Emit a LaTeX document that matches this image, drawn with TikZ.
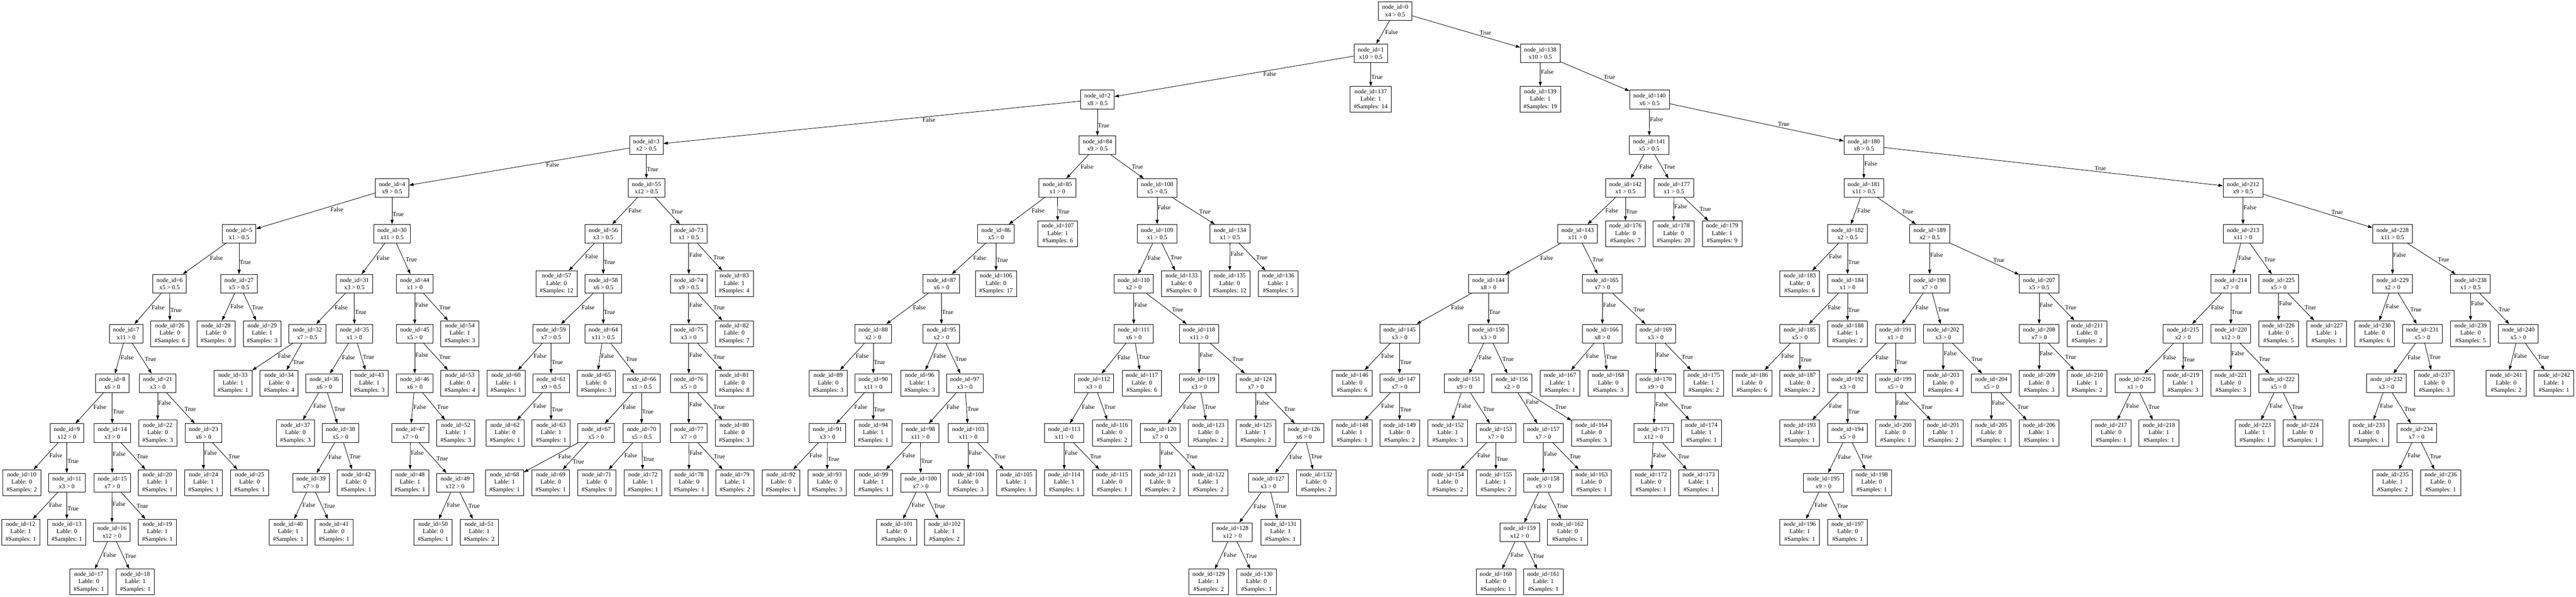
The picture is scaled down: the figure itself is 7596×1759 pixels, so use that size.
\documentclass[tikz,border=0pt]{standalone}
\usepackage{fontspec}
\setmainfont{Liberation Serif}
\usetikzlibrary{arrows.meta}
\tikzstyle{arrow} = [line width=1.3pt, ->, >={Triangle[length=13pt, width=9pt]}]

\begin{document}
\begin{tikzpicture}[x=1pt, y=1pt,
		font=\fontsize{18}{22}\selectfont,
		decision/.style={
			draw=black,
			line width=1.3pt,
			rectangle,
			align=center,
			inner xsep=11pt,
			inner ysep=2pt,
			minimum height=55pt},
		leafbox/.style={
			draw=black,
			line width=1.3pt,
			rectangle,
			align=center,
			inner xsep=11pt,
			inner ysep=2pt,
			minimum height=76pt},
		flabel/.style={auto, pos=0.38, inner sep=1pt},
		tlabel/.style={auto, pos=0.62, inner sep=1pt}]
		\useasboundingbox (0,0) rectangle (7596,-1759);

		% rank 0
		\node (n0) [decision] at (4114,-32) {node\_id=0\\x4 > 0.5};
		% rank 1
		\node (n1) [decision] at (4042,-157) {node\_id=1\\x10 > 0.5};
		\node (n138) [decision] at (4542,-157) {node\_id=138\\x10 > 0.5};
		% rank 2
		\node (n2) [decision] at (3236,-293) {node\_id=2\\x8 > 0.5};
		\node (n137) [leafbox] at (4042,-293) {node\_id=137\\Lable: 1\\\#Samples: 14};
		\node (n139) [leafbox] at (4542,-293) {node\_id=139\\Lable: 1\\\#Samples: 19};
		\node (n140) [decision] at (4864,-293) {node\_id=140\\x6 > 0.5};
		% rank 3
		\node (n3) [decision] at (1906,-428) {node\_id=3\\x2 > 0.5};
		\node (n84) [decision] at (3236,-428) {node\_id=84\\x9 > 0.5};
		\node (n141) [decision] at (4863,-428) {node\_id=141\\x5 > 0.5};
		\node (n180) [decision] at (5496,-428) {node\_id=180\\x8 > 0.5};
		% rank 4
		\node (n4) [decision] at (1156,-554) {node\_id=4\\x9 > 0.5};
		\node (n55) [decision] at (1906,-554) {node\_id=55\\x12 > 0.5};
		\node (n85) [decision] at (3118,-554) {node\_id=85\\x1 > 0};
		\node (n108) [decision] at (3412,-554) {node\_id=108\\x5 > 0.5};
		\node (n142) [decision] at (4793,-554) {node\_id=142\\x1 > 0.5};
		\node (n177) [decision] at (4936,-554) {node\_id=177\\x1 > 0.5};
		\node (n181) [decision] at (5496,-554) {node\_id=181\\x11 > 0.5};
		\node (n212) [decision] at (6614,-554) {node\_id=212\\x9 > 0.5};
		% rank 5
		\node (n5) [decision] at (705,-689) {node\_id=5\\x1 > 0.5};
		\node (n30) [decision] at (1156,-689) {node\_id=30\\x11 > 0.5};
		\node (n56) [decision] at (1779,-689) {node\_id=56\\x3 > 0.5};
		\node (n73) [decision] at (2031,-689) {node\_id=73\\x1 > 0.5};
		\node (n86) [decision] at (2937,-689) {node\_id=86\\x5 > 0};
		\node (n107) [leafbox] at (3119,-689) {node\_id=107\\Lable: 1\\\#Samples: 6};
		\node (n109) [decision] at (3412,-689) {node\_id=109\\x1 > 0.5};
		\node (n134) [decision] at (3627,-689) {node\_id=134\\x1 > 0.5};
		\node (n143) [decision] at (4652,-689) {node\_id=143\\x11 > 0};
		\node (n176) [leafbox] at (4793,-689) {node\_id=176\\Lable: 0\\\#Samples: 7};
		\node (n178) [leafbox] at (4935,-689) {node\_id=178\\Lable: 0\\\#Samples: 20};
		\node (n179) [leafbox] at (5078,-689) {node\_id=179\\Lable: 1\\\#Samples: 9};
		\node (n182) [decision] at (5448,-689) {node\_id=182\\x2 > 0.5};
		\node (n189) [decision] at (5690,-689) {node\_id=189\\x2 > 0.5};
		\node (n213) [decision] at (6614,-689) {node\_id=213\\x11 > 0};
		\node (n228) [decision] at (7055,-689) {node\_id=228\\x11 > 0.5};
		% rank 6
		\node (n6) [decision] at (500,-836) {node\_id=6\\x5 > 0.5};
		\node (n27) [decision] at (705,-836) {node\_id=27\\x5 > 0.5};
		\node (n31) [decision] at (1045,-836) {node\_id=31\\x3 > 0.5};
		\node (n44) [decision] at (1223,-836) {node\_id=44\\x1 > 0};
		\node (n57) [leafbox] at (1641,-836) {node\_id=57\\Lable: 0\\\#Samples: 12};
		\node (n58) [decision] at (1779,-836) {node\_id=58\\x6 > 0.5};
		\node (n74) [decision] at (2031,-836) {node\_id=74\\x9 > 0.5};
		\node (n83) [leafbox] at (2165,-836) {node\_id=83\\Lable: 1\\\#Samples: 4};
		\node (n87) [decision] at (2776,-836) {node\_id=87\\x6 > 0};
		\node (n106) [leafbox] at (2937,-836) {node\_id=106\\Lable: 0\\\#Samples: 17};
		\node (n110) [decision] at (3343,-836) {node\_id=110\\x2 > 0};
		\node (n133) [leafbox] at (3484,-836) {node\_id=133\\Lable: 0\\\#Samples: 0};
		\node (n135) [leafbox] at (3626,-836) {node\_id=135\\Lable: 0\\\#Samples: 12};
		\node (n136) [leafbox] at (3769,-836) {node\_id=136\\Lable: 1\\\#Samples: 5};
		\node (n144) [decision] at (4389,-836) {node\_id=144\\x8 > 0};
		\node (n165) [decision] at (4725,-836) {node\_id=165\\x7 > 0};
		\node (n183) [leafbox] at (5307,-836) {node\_id=183\\Lable: 0\\\#Samples: 6};
		\node (n184) [decision] at (5448,-836) {node\_id=184\\x1 > 0};
		\node (n190) [decision] at (5690,-836) {node\_id=190\\x7 > 0};
		\node (n207) [decision] at (6013,-836) {node\_id=207\\x5 > 0.5};
		\node (n214) [decision] at (6578,-836) {node\_id=214\\x7 > 0};
		\node (n225) [decision] at (6719,-836) {node\_id=225\\x5 > 0};
		\node (n229) [decision] at (7055,-836) {node\_id=229\\x2 > 0};
		\node (n238) [decision] at (7285,-836) {node\_id=238\\x1 > 0.5};
		% rank 7
		\node (n7) [decision] at (372,-983) {node\_id=7\\x11 > 0};
		\node (n26) [leafbox] at (501,-983) {node\_id=26\\Lable: 0\\\#Samples: 6};
		\node (n28) [leafbox] at (637,-983) {node\_id=28\\Lable: 0\\\#Samples: 0};
		\node (n29) [leafbox] at (773,-983) {node\_id=29\\Lable: 1\\\#Samples: 3};
		\node (n32) [decision] at (906,-983) {node\_id=32\\x7 > 0.5};
		\node (n35) [decision] at (1045,-983) {node\_id=35\\x1 > 0};
		\node (n45) [decision] at (1223,-983) {node\_id=45\\x5 > 0};
		\node (n54) [leafbox] at (1356,-983) {node\_id=54\\Lable: 1\\\#Samples: 3};
		\node (n59) [decision] at (1625,-983) {node\_id=59\\x7 > 0.5};
		\node (n64) [decision] at (1779,-983) {node\_id=64\\x11 > 0.5};
		\node (n75) [decision] at (2031,-983) {node\_id=75\\x3 > 0};
		\node (n82) [leafbox] at (2165,-983) {node\_id=82\\Lable: 0\\\#Samples: 7};
		\node (n88) [decision] at (2575,-983) {node\_id=88\\x2 > 0};
		\node (n95) [decision] at (2776,-983) {node\_id=95\\x2 > 0};
		\node (n111) [decision] at (3343,-983) {node\_id=111\\x6 > 0};
		\node (n118) [decision] at (3536,-983) {node\_id=118\\x11 > 0};
		\node (n145) [decision] at (4127,-983) {node\_id=145\\x3 > 0};
		\node (n150) [decision] at (4389,-983) {node\_id=150\\x3 > 0};
		\node (n166) [decision] at (4725,-983) {node\_id=166\\x8 > 0};
		\node (n169) [decision] at (4882,-983) {node\_id=169\\x3 > 0};
		\node (n185) [decision] at (5307,-983) {node\_id=185\\x5 > 0};
		\node (n188) [leafbox] at (5448,-983) {node\_id=188\\Lable: 1\\\#Samples: 2};
		\node (n191) [decision] at (5589,-983) {node\_id=191\\x1 > 0};
		\node (n202) [decision] at (5730,-983) {node\_id=202\\x3 > 0};
		\node (n208) [decision] at (6013,-983) {node\_id=208\\x7 > 0};
		\node (n211) [leafbox] at (6154,-983) {node\_id=211\\Lable: 0\\\#Samples: 2};
		\node (n215) [decision] at (6437,-983) {node\_id=215\\x2 > 0};
		\node (n220) [decision] at (6578,-983) {node\_id=220\\x12 > 0};
		\node (n226) [leafbox] at (6719,-983) {node\_id=226\\Lable: 0\\\#Samples: 5};
		\node (n227) [leafbox] at (6861,-983) {node\_id=227\\Lable: 1\\\#Samples: 1};
		\node (n230) [leafbox] at (7002,-983) {node\_id=230\\Lable: 0\\\#Samples: 6};
		\node (n231) [decision] at (7143,-983) {node\_id=231\\x5 > 0};
		\node (n239) [leafbox] at (7285,-983) {node\_id=239\\Lable: 0\\\#Samples: 5};
		\node (n240) [decision] at (7426,-983) {node\_id=240\\x5 > 0};
		% rank 8
		\node (n8) [decision] at (331,-1129) {node\_id=8\\x6 > 0};
		\node (n21) [decision] at (465,-1129) {node\_id=21\\x3 > 0};
		\node (n33) [leafbox] at (687,-1129) {node\_id=33\\Lable: 1\\\#Samples: 1};
		\node (n34) [leafbox] at (823,-1129) {node\_id=34\\Lable: 0\\\#Samples: 4};
		\node (n36) [decision] at (956,-1129) {node\_id=36\\x6 > 0};
		\node (n43) [leafbox] at (1089,-1129) {node\_id=43\\Lable: 1\\\#Samples: 3};
		\node (n46) [decision] at (1223,-1129) {node\_id=46\\x6 > 0};
		\node (n53) [leafbox] at (1356,-1129) {node\_id=53\\Lable: 0\\\#Samples: 4};
		\node (n60) [leafbox] at (1492,-1129) {node\_id=60\\Lable: 1\\\#Samples: 1};
		\node (n61) [decision] at (1625,-1129) {node\_id=61\\x9 > 0.5};
		\node (n65) [leafbox] at (1758,-1129) {node\_id=65\\Lable: 0\\\#Samples: 3};
		\node (n66) [decision] at (1892,-1129) {node\_id=66\\x1 > 0.5};
		\node (n76) [decision] at (2031,-1129) {node\_id=76\\x5 > 0};
		\node (n81) [leafbox] at (2165,-1129) {node\_id=81\\Lable: 0\\\#Samples: 8};
		\node (n89) [leafbox] at (2442,-1129) {node\_id=89\\Lable: 0\\\#Samples: 3};
		\node (n90) [decision] at (2575,-1129) {node\_id=90\\x11 > 0};
		\node (n96) [leafbox] at (2712,-1129) {node\_id=96\\Lable: 1\\\#Samples: 3};
		\node (n97) [decision] at (2845,-1129) {node\_id=97\\x3 > 0};
		\node (n112) [decision] at (3226,-1129) {node\_id=112\\x3 > 0};
		\node (n117) [leafbox] at (3367,-1129) {node\_id=117\\Lable: 0\\\#Samples: 6};
		\node (n119) [decision] at (3536,-1129) {node\_id=119\\x3 > 0};
		\node (n124) [decision] at (3703,-1129) {node\_id=124\\x7 > 0};
		\node (n146) [leafbox] at (3987,-1129) {node\_id=146\\Lable: 0\\\#Samples: 6};
		\node (n147) [decision] at (4127,-1129) {node\_id=147\\x7 > 0};
		\node (n151) [decision] at (4318,-1129) {node\_id=151\\x9 > 0};
		\node (n156) [decision] at (4458,-1129) {node\_id=156\\x2 > 0};
		\node (n167) [leafbox] at (4600,-1129) {node\_id=167\\Lable: 1\\\#Samples: 1};
		\node (n168) [leafbox] at (4742,-1129) {node\_id=168\\Lable: 0\\\#Samples: 3};
		\node (n170) [decision] at (4882,-1129) {node\_id=170\\x9 > 0};
		\node (n175) [leafbox] at (5024,-1129) {node\_id=175\\Lable: 1\\\#Samples: 2};
		\node (n186) [leafbox] at (5166,-1129) {node\_id=186\\Lable: 0\\\#Samples: 6};
		\node (n187) [leafbox] at (5307,-1129) {node\_id=187\\Lable: 0\\\#Samples: 2};
		\node (n192) [decision] at (5448,-1129) {node\_id=192\\x3 > 0};
		\node (n199) [decision] at (5589,-1129) {node\_id=199\\x5 > 0};
		\node (n203) [leafbox] at (5730,-1129) {node\_id=203\\Lable: 0\\\#Samples: 4};
		\node (n204) [decision] at (5872,-1129) {node\_id=204\\x5 > 0};
		\node (n209) [leafbox] at (6013,-1129) {node\_id=209\\Lable: 0\\\#Samples: 3};
		\node (n210) [leafbox] at (6154,-1129) {node\_id=210\\Lable: 1\\\#Samples: 2};
		\node (n216) [decision] at (6296,-1129) {node\_id=216\\x1 > 0};
		\node (n219) [leafbox] at (6437,-1129) {node\_id=219\\Lable: 1\\\#Samples: 3};
		\node (n221) [leafbox] at (6578,-1129) {node\_id=221\\Lable: 0\\\#Samples: 3};
		\node (n222) [decision] at (6719,-1129) {node\_id=222\\x5 > 0};
		\node (n232) [decision] at (7037,-1129) {node\_id=232\\x3 > 0};
		\node (n237) [leafbox] at (7178,-1129) {node\_id=237\\Lable: 0\\\#Samples: 3};
		\node (n241) [leafbox] at (7390,-1129) {node\_id=241\\Lable: 0\\\#Samples: 2};
		\node (n242) [leafbox] at (7531,-1129) {node\_id=242\\Lable: 1\\\#Samples: 1};
		% rank 9
		\node (n9) [decision] at (197,-1276) {node\_id=9\\x12 > 0};
		\node (n14) [decision] at (331,-1276) {node\_id=14\\x3 > 0};
		\node (n22) [leafbox] at (465,-1276) {node\_id=22\\Lable: 0\\\#Samples: 3};
		\node (n23) [decision] at (600,-1276) {node\_id=23\\x6 > 0};
		\node (n37) [leafbox] at (871,-1276) {node\_id=37\\Lable: 0\\\#Samples: 3};
		\node (n38) [decision] at (1004,-1276) {node\_id=38\\x5 > 0};
		\node (n47) [decision] at (1210,-1276) {node\_id=47\\x7 > 0};
		\node (n52) [leafbox] at (1344,-1276) {node\_id=52\\Lable: 1\\\#Samples: 3};
		\node (n62) [leafbox] at (1489,-1276) {node\_id=62\\Lable: 0\\\#Samples: 1};
		\node (n63) [leafbox] at (1625,-1276) {node\_id=63\\Lable: 1\\\#Samples: 1};
		\node (n67) [decision] at (1758,-1276) {node\_id=67\\x5 > 0};
		\node (n70) [decision] at (1892,-1276) {node\_id=70\\x5 > 0.5};
		\node (n77) [decision] at (2031,-1276) {node\_id=77\\x7 > 0};
		\node (n80) [leafbox] at (2165,-1276) {node\_id=80\\Lable: 0\\\#Samples: 3};
		\node (n91) [decision] at (2440,-1276) {node\_id=91\\x3 > 0};
		\node (n94) [leafbox] at (2575,-1276) {node\_id=94\\Lable: 1\\\#Samples: 1};
		\node (n98) [decision] at (2714,-1276) {node\_id=98\\x11 > 0};
		\node (n103) [decision] at (2855,-1276) {node\_id=103\\x11 > 0};
		\node (n113) [decision] at (3138,-1276) {node\_id=113\\x11 > 0};
		\node (n116) [leafbox] at (3279,-1276) {node\_id=116\\Lable: 0\\\#Samples: 2};
		\node (n120) [decision] at (3421,-1276) {node\_id=120\\x7 > 0};
		\node (n123) [leafbox] at (3563,-1276) {node\_id=123\\Lable: 0\\\#Samples: 2};
		\node (n125) [leafbox] at (3703,-1276) {node\_id=125\\Lable: 1\\\#Samples: 2};
		\node (n126) [decision] at (3845,-1276) {node\_id=126\\x6 > 0};
		\node (n148) [leafbox] at (3987,-1276) {node\_id=148\\Lable: 1\\\#Samples: 1};
		\node (n149) [leafbox] at (4127,-1276) {node\_id=149\\Lable: 0\\\#Samples: 2};
		\node (n152) [leafbox] at (4269,-1276) {node\_id=152\\Lable: 1\\\#Samples: 3};
		\node (n153) [decision] at (4411,-1276) {node\_id=153\\x7 > 0};
		\node (n157) [decision] at (4551,-1276) {node\_id=157\\x7 > 0};
		\node (n164) [leafbox] at (4693,-1276) {node\_id=164\\Lable: 0\\\#Samples: 3};
		\node (n171) [decision] at (4876,-1276) {node\_id=171\\x12 > 0};
		\node (n174) [leafbox] at (5017,-1276) {node\_id=174\\Lable: 1\\\#Samples: 1};
		\node (n193) [leafbox] at (5307,-1276) {node\_id=193\\Lable: 1\\\#Samples: 1};
		\node (n194) [decision] at (5448,-1276) {node\_id=194\\x5 > 0};
		\node (n200) [leafbox] at (5589,-1276) {node\_id=200\\Lable: 0\\\#Samples: 1};
		\node (n201) [leafbox] at (5730,-1276) {node\_id=201\\Lable: 1\\\#Samples: 2};
		\node (n205) [leafbox] at (5872,-1276) {node\_id=205\\Lable: 0\\\#Samples: 1};
		\node (n206) [leafbox] at (6013,-1276) {node\_id=206\\Lable: 1\\\#Samples: 1};
		\node (n217) [leafbox] at (6225,-1276) {node\_id=217\\Lable: 0\\\#Samples: 1};
		\node (n218) [leafbox] at (6366,-1276) {node\_id=218\\Lable: 1\\\#Samples: 1};
		\node (n223) [leafbox] at (6649,-1276) {node\_id=223\\Lable: 1\\\#Samples: 1};
		\node (n224) [leafbox] at (6790,-1276) {node\_id=224\\Lable: 0\\\#Samples: 1};
		\node (n233) [leafbox] at (6985,-1276) {node\_id=233\\Lable: 0\\\#Samples: 1};
		\node (n234) [decision] at (7126,-1276) {node\_id=234\\x7 > 0};
		% rank 10
		\node (n10) [leafbox] at (64,-1422) {node\_id=10\\Lable: 0\\\#Samples: 2};
		\node (n11) [decision] at (197,-1422) {node\_id=11\\x3 > 0};
		\node (n15) [decision] at (331,-1422) {node\_id=15\\x7 > 0};
		\node (n20) [leafbox] at (464,-1422) {node\_id=20\\Lable: 1\\\#Samples: 1};
		\node (n24) [leafbox] at (600,-1422) {node\_id=24\\Lable: 1\\\#Samples: 1};
		\node (n25) [leafbox] at (736,-1422) {node\_id=25\\Lable: 0\\\#Samples: 1};
		\node (n39) [decision] at (917,-1422) {node\_id=39\\x7 > 0};
		\node (n42) [leafbox] at (1050,-1422) {node\_id=42\\Lable: 0\\\#Samples: 1};
		\node (n48) [leafbox] at (1209,-1422) {node\_id=48\\Lable: 1\\\#Samples: 1};
		\node (n49) [decision] at (1342,-1422) {node\_id=49\\x12 > 0};
		\node (n68) [leafbox] at (1488,-1422) {node\_id=68\\Lable: 1\\\#Samples: 1};
		\node (n69) [leafbox] at (1624,-1422) {node\_id=69\\Lable: 0\\\#Samples: 1};
		\node (n71) [leafbox] at (1760,-1422) {node\_id=71\\Lable: 0\\\#Samples: 0};
		\node (n72) [leafbox] at (1896,-1422) {node\_id=72\\Lable: 1\\\#Samples: 1};
		\node (n78) [leafbox] at (2032,-1422) {node\_id=78\\Lable: 0\\\#Samples: 1};
		\node (n79) [leafbox] at (2167,-1422) {node\_id=79\\Lable: 1\\\#Samples: 2};
		\node (n92) [leafbox] at (2303,-1422) {node\_id=92\\Lable: 0\\\#Samples: 1};
		\node (n93) [leafbox] at (2439,-1422) {node\_id=93\\Lable: 0\\\#Samples: 3};
		\node (n99) [leafbox] at (2576,-1422) {node\_id=99\\Lable: 1\\\#Samples: 1};
		\node (n100) [decision] at (2715,-1422) {node\_id=100\\x7 > 0};
		\node (n104) [leafbox] at (2855,-1422) {node\_id=104\\Lable: 0\\\#Samples: 3};
		\node (n105) [leafbox] at (2997,-1422) {node\_id=105\\Lable: 1\\\#Samples: 1};
		\node (n114) [leafbox] at (3138,-1422) {node\_id=114\\Lable: 1\\\#Samples: 1};
		\node (n115) [leafbox] at (3279,-1422) {node\_id=115\\Lable: 0\\\#Samples: 1};
		\node (n121) [leafbox] at (3421,-1422) {node\_id=121\\Lable: 0\\\#Samples: 2};
		\node (n122) [leafbox] at (3563,-1422) {node\_id=122\\Lable: 1\\\#Samples: 2};
		\node (n127) [decision] at (3740,-1422) {node\_id=127\\x3 > 0};
		\node (n132) [leafbox] at (3881,-1422) {node\_id=132\\Lable: 0\\\#Samples: 2};
		\node (n154) [leafbox] at (4269,-1422) {node\_id=154\\Lable: 0\\\#Samples: 2};
		\node (n155) [leafbox] at (4411,-1422) {node\_id=155\\Lable: 1\\\#Samples: 2};
		\node (n158) [decision] at (4551,-1422) {node\_id=158\\x9 > 0};
		\node (n163) [leafbox] at (4693,-1422) {node\_id=163\\Lable: 0\\\#Samples: 1};
		\node (n172) [leafbox] at (4868,-1422) {node\_id=172\\Lable: 0\\\#Samples: 1};
		\node (n173) [leafbox] at (5009,-1422) {node\_id=173\\Lable: 1\\\#Samples: 1};
		\node (n195) [decision] at (5377,-1422) {node\_id=195\\x9 > 0};
		\node (n198) [leafbox] at (5519,-1422) {node\_id=198\\Lable: 0\\\#Samples: 1};
		\node (n235) [leafbox] at (7055,-1422) {node\_id=235\\Lable: 1\\\#Samples: 2};
		\node (n236) [leafbox] at (7197,-1422) {node\_id=236\\Lable: 0\\\#Samples: 1};
		% rank 11
		\node (n12) [leafbox] at (61,-1568) {node\_id=12\\Lable: 1\\\#Samples: 1};
		\node (n13) [leafbox] at (197,-1568) {node\_id=13\\Lable: 0\\\#Samples: 1};
		\node (n16) [decision] at (330,-1568) {node\_id=16\\x12 > 0};
		\node (n19) [leafbox] at (464,-1568) {node\_id=19\\Lable: 1\\\#Samples: 1};
		\node (n40) [leafbox] at (850,-1568) {node\_id=40\\Lable: 1\\\#Samples: 1};
		\node (n41) [leafbox] at (985,-1568) {node\_id=41\\Lable: 0\\\#Samples: 1};
		\node (n50) [leafbox] at (1277,-1568) {node\_id=50\\Lable: 0\\\#Samples: 1};
		\node (n51) [leafbox] at (1413,-1568) {node\_id=51\\Lable: 1\\\#Samples: 2};
		\node (n101) [leafbox] at (2644,-1568) {node\_id=101\\Lable: 0\\\#Samples: 1};
		\node (n102) [leafbox] at (2785,-1568) {node\_id=102\\Lable: 1\\\#Samples: 2};
		\node (n128) [decision] at (3634,-1568) {node\_id=128\\x12 > 0};
		\node (n131) [leafbox] at (3776,-1568) {node\_id=131\\Lable: 1\\\#Samples: 1};
		\node (n159) [decision] at (4481,-1568) {node\_id=159\\x12 > 0};
		\node (n162) [leafbox] at (4622,-1568) {node\_id=162\\Lable: 0\\\#Samples: 1};
		\node (n196) [leafbox] at (5307,-1568) {node\_id=196\\Lable: 1\\\#Samples: 1};
		\node (n197) [leafbox] at (5448,-1568) {node\_id=197\\Lable: 0\\\#Samples: 1};
		% rank 12
		\node (n17) [leafbox] at (262,-1715) {node\_id=17\\Lable: 0\\\#Samples: 1};
		\node (n18) [leafbox] at (399,-1715) {node\_id=18\\Lable: 1\\\#Samples: 1};
		\node (n129) [leafbox] at (3564,-1715) {node\_id=129\\Lable: 1\\\#Samples: 2};
		\node (n130) [leafbox] at (3705,-1715) {node\_id=130\\Lable: 0\\\#Samples: 1};
		\node (n160) [leafbox] at (4411,-1715) {node\_id=160\\Lable: 0\\\#Samples: 1};
		\node (n161) [leafbox] at (4551,-1715) {node\_id=161\\Lable: 1\\\#Samples: 1};

		% edges
		\draw [arrow] (n0) -- node[flabel] {False} (n1); \draw [arrow] (n0) -- node[tlabel] {True} (n138);
		\draw [arrow] (n1) -- node[flabel] {False} (n2); \draw [arrow] (n1) -- node[tlabel] {True} (n137);
		\draw [arrow] (n138) -- node[flabel] {False} (n139); \draw [arrow] (n138) -- node[tlabel] {True} (n140);
		\draw [arrow] (n2) -- node[flabel] {False} (n3); \draw [arrow] (n2) -- node[tlabel] {True} (n84);
		\draw [arrow] (n140) -- node[flabel] {False} (n141); \draw [arrow] (n140) -- node[tlabel] {True} (n180);
		\draw [arrow] (n3) -- node[flabel] {False} (n4); \draw [arrow] (n3) -- node[tlabel] {True} (n55);
		\draw [arrow] (n84) -- node[flabel] {False} (n85); \draw [arrow] (n84) -- node[tlabel] {True} (n108);
		\draw [arrow] (n141) -- node[flabel] {False} (n142); \draw [arrow] (n141) -- node[tlabel] {True} (n177);
		\draw [arrow] (n180) -- node[flabel] {False} (n181); \draw [arrow] (n180) -- node[tlabel] {True} (n212);
		\draw [arrow] (n4) -- node[flabel] {False} (n5); \draw [arrow] (n4) -- node[tlabel] {True} (n30);
		\draw [arrow] (n55) -- node[flabel] {False} (n56); \draw [arrow] (n55) -- node[tlabel] {True} (n73);
		\draw [arrow] (n85) -- node[flabel] {False} (n86); \draw [arrow] (n85) -- node[tlabel] {True} (n107);
		\draw [arrow] (n108) -- node[flabel] {False} (n109); \draw [arrow] (n108) -- node[tlabel] {True} (n134);
		\draw [arrow] (n142) -- node[flabel] {False} (n143); \draw [arrow] (n142) -- node[tlabel] {True} (n176);
		\draw [arrow] (n177) -- node[flabel] {False} (n178); \draw [arrow] (n177) -- node[tlabel] {True} (n179);
		\draw [arrow] (n181) -- node[flabel] {False} (n182); \draw [arrow] (n181) -- node[tlabel] {True} (n189);
		\draw [arrow] (n212) -- node[flabel] {False} (n213); \draw [arrow] (n212) -- node[tlabel] {True} (n228);
		\draw [arrow] (n5) -- node[flabel] {False} (n6); \draw [arrow] (n5) -- node[tlabel] {True} (n27);
		\draw [arrow] (n30) -- node[flabel] {False} (n31); \draw [arrow] (n30) -- node[tlabel] {True} (n44);
		\draw [arrow] (n56) -- node[flabel] {False} (n57); \draw [arrow] (n56) -- node[tlabel] {True} (n58);
		\draw [arrow] (n73) -- node[flabel] {False} (n74); \draw [arrow] (n73) -- node[tlabel] {True} (n83);
		\draw [arrow] (n86) -- node[flabel] {False} (n87); \draw [arrow] (n86) -- node[tlabel] {True} (n106);
		\draw [arrow] (n109) -- node[flabel] {False} (n110); \draw [arrow] (n109) -- node[tlabel] {True} (n133);
		\draw [arrow] (n134) -- node[flabel] {False} (n135); \draw [arrow] (n134) -- node[tlabel] {True} (n136);
		\draw [arrow] (n143) -- node[flabel] {False} (n144); \draw [arrow] (n143) -- node[tlabel] {True} (n165);
		\draw [arrow] (n182) -- node[flabel] {False} (n183); \draw [arrow] (n182) -- node[tlabel] {True} (n184);
		\draw [arrow] (n189) -- node[flabel] {False} (n190); \draw [arrow] (n189) -- node[tlabel] {True} (n207);
		\draw [arrow] (n213) -- node[flabel] {False} (n214); \draw [arrow] (n213) -- node[tlabel] {True} (n225);
		\draw [arrow] (n228) -- node[flabel] {False} (n229); \draw [arrow] (n228) -- node[tlabel] {True} (n238);
		\draw [arrow] (n6) -- node[flabel] {False} (n7); \draw [arrow] (n6) -- node[tlabel] {True} (n26);
		\draw [arrow] (n27) -- node[flabel] {False} (n28); \draw [arrow] (n27) -- node[tlabel] {True} (n29);
		\draw [arrow] (n31) -- node[flabel] {False} (n32); \draw [arrow] (n31) -- node[tlabel] {True} (n35);
		\draw [arrow] (n44) -- node[flabel] {False} (n45); \draw [arrow] (n44) -- node[tlabel] {True} (n54);
		\draw [arrow] (n58) -- node[flabel] {False} (n59); \draw [arrow] (n58) -- node[tlabel] {True} (n64);
		\draw [arrow] (n74) -- node[flabel] {False} (n75); \draw [arrow] (n74) -- node[tlabel] {True} (n82);
		\draw [arrow] (n87) -- node[flabel] {False} (n88); \draw [arrow] (n87) -- node[tlabel] {True} (n95);
		\draw [arrow] (n110) -- node[flabel] {False} (n111); \draw [arrow] (n110) -- node[tlabel] {True} (n118);
		\draw [arrow] (n144) -- node[flabel] {False} (n145); \draw [arrow] (n144) -- node[tlabel] {True} (n150);
		\draw [arrow] (n165) -- node[flabel] {False} (n166); \draw [arrow] (n165) -- node[tlabel] {True} (n169);
		\draw [arrow] (n184) -- node[flabel] {False} (n185); \draw [arrow] (n184) -- node[tlabel] {True} (n188);
		\draw [arrow] (n190) -- node[flabel] {False} (n191); \draw [arrow] (n190) -- node[tlabel] {True} (n202);
		\draw [arrow] (n207) -- node[flabel] {False} (n208); \draw [arrow] (n207) -- node[tlabel] {True} (n211);
		\draw [arrow] (n214) -- node[flabel] {False} (n215); \draw [arrow] (n214) -- node[tlabel] {True} (n220);
		\draw [arrow] (n225) -- node[flabel] {False} (n226); \draw [arrow] (n225) -- node[tlabel] {True} (n227);
		\draw [arrow] (n229) -- node[flabel] {False} (n230); \draw [arrow] (n229) -- node[tlabel] {True} (n231);
		\draw [arrow] (n238) -- node[flabel] {False} (n239); \draw [arrow] (n238) -- node[tlabel] {True} (n240);
		\draw [arrow] (n7) -- node[flabel] {False} (n8); \draw [arrow] (n7) -- node[tlabel] {True} (n21);
		\draw [arrow] (n32) -- node[flabel] {False} (n33); \draw [arrow] (n32) -- node[tlabel] {True} (n34);
		\draw [arrow] (n35) -- node[flabel] {False} (n36); \draw [arrow] (n35) -- node[tlabel] {True} (n43);
		\draw [arrow] (n45) -- node[flabel] {False} (n46); \draw [arrow] (n45) -- node[tlabel] {True} (n53);
		\draw [arrow] (n59) -- node[flabel] {False} (n60); \draw [arrow] (n59) -- node[tlabel] {True} (n61);
		\draw [arrow] (n64) -- node[flabel] {False} (n65); \draw [arrow] (n64) -- node[tlabel] {True} (n66);
		\draw [arrow] (n75) -- node[flabel] {False} (n76); \draw [arrow] (n75) -- node[tlabel] {True} (n81);
		\draw [arrow] (n88) -- node[flabel] {False} (n89); \draw [arrow] (n88) -- node[tlabel] {True} (n90);
		\draw [arrow] (n95) -- node[flabel] {False} (n96); \draw [arrow] (n95) -- node[tlabel] {True} (n97);
		\draw [arrow] (n111) -- node[flabel] {False} (n112); \draw [arrow] (n111) -- node[tlabel] {True} (n117);
		\draw [arrow] (n118) -- node[flabel] {False} (n119); \draw [arrow] (n118) -- node[tlabel] {True} (n124);
		\draw [arrow] (n145) -- node[flabel] {False} (n146); \draw [arrow] (n145) -- node[tlabel] {True} (n147);
		\draw [arrow] (n150) -- node[flabel] {False} (n151); \draw [arrow] (n150) -- node[tlabel] {True} (n156);
		\draw [arrow] (n166) -- node[flabel] {False} (n167); \draw [arrow] (n166) -- node[tlabel] {True} (n168);
		\draw [arrow] (n169) -- node[flabel] {False} (n170); \draw [arrow] (n169) -- node[tlabel] {True} (n175);
		\draw [arrow] (n185) -- node[flabel] {False} (n186); \draw [arrow] (n185) -- node[tlabel] {True} (n187);
		\draw [arrow] (n191) -- node[flabel] {False} (n192); \draw [arrow] (n191) -- node[tlabel] {True} (n199);
		\draw [arrow] (n202) -- node[flabel] {False} (n203); \draw [arrow] (n202) -- node[tlabel] {True} (n204);
		\draw [arrow] (n208) -- node[flabel] {False} (n209); \draw [arrow] (n208) -- node[tlabel] {True} (n210);
		\draw [arrow] (n215) -- node[flabel] {False} (n216); \draw [arrow] (n215) -- node[tlabel] {True} (n219);
		\draw [arrow] (n220) -- node[flabel] {False} (n221); \draw [arrow] (n220) -- node[tlabel] {True} (n222);
		\draw [arrow] (n231) -- node[flabel] {False} (n232); \draw [arrow] (n231) -- node[tlabel] {True} (n237);
		\draw [arrow] (n240) -- node[flabel] {False} (n241); \draw [arrow] (n240) -- node[tlabel] {True} (n242);
		\draw [arrow] (n8) -- node[flabel] {False} (n9); \draw [arrow] (n8) -- node[tlabel] {True} (n14);
		\draw [arrow] (n21) -- node[flabel] {False} (n22); \draw [arrow] (n21) -- node[tlabel] {True} (n23);
		\draw [arrow] (n36) -- node[flabel] {False} (n37); \draw [arrow] (n36) -- node[tlabel] {True} (n38);
		\draw [arrow] (n46) -- node[flabel] {False} (n47); \draw [arrow] (n46) -- node[tlabel] {True} (n52);
		\draw [arrow] (n61) -- node[flabel] {False} (n62); \draw [arrow] (n61) -- node[tlabel] {True} (n63);
		\draw [arrow] (n66) -- node[flabel] {False} (n67); \draw [arrow] (n66) -- node[tlabel] {True} (n70);
		\draw [arrow] (n76) -- node[flabel] {False} (n77); \draw [arrow] (n76) -- node[tlabel] {True} (n80);
		\draw [arrow] (n90) -- node[flabel] {False} (n91); \draw [arrow] (n90) -- node[tlabel] {True} (n94);
		\draw [arrow] (n97) -- node[flabel] {False} (n98); \draw [arrow] (n97) -- node[tlabel] {True} (n103);
		\draw [arrow] (n112) -- node[flabel] {False} (n113); \draw [arrow] (n112) -- node[tlabel] {True} (n116);
		\draw [arrow] (n119) -- node[flabel] {False} (n120); \draw [arrow] (n119) -- node[tlabel] {True} (n123);
		\draw [arrow] (n124) -- node[flabel] {False} (n125); \draw [arrow] (n124) -- node[tlabel] {True} (n126);
		\draw [arrow] (n147) -- node[flabel] {False} (n148); \draw [arrow] (n147) -- node[tlabel] {True} (n149);
		\draw [arrow] (n151) -- node[flabel] {False} (n152); \draw [arrow] (n151) -- node[tlabel] {True} (n153);
		\draw [arrow] (n156) -- node[flabel] {False} (n157); \draw [arrow] (n156) -- node[tlabel] {True} (n164);
		\draw [arrow] (n170) -- node[flabel] {False} (n171); \draw [arrow] (n170) -- node[tlabel] {True} (n174);
		\draw [arrow] (n192) -- node[flabel] {False} (n193); \draw [arrow] (n192) -- node[tlabel] {True} (n194);
		\draw [arrow] (n199) -- node[flabel] {False} (n200); \draw [arrow] (n199) -- node[tlabel] {True} (n201);
		\draw [arrow] (n204) -- node[flabel] {False} (n205); \draw [arrow] (n204) -- node[tlabel] {True} (n206);
		\draw [arrow] (n216) -- node[flabel] {False} (n217); \draw [arrow] (n216) -- node[tlabel] {True} (n218);
		\draw [arrow] (n222) -- node[flabel] {False} (n223); \draw [arrow] (n222) -- node[tlabel] {True} (n224);
		\draw [arrow] (n232) -- node[flabel] {False} (n233); \draw [arrow] (n232) -- node[tlabel] {True} (n234);
		\draw [arrow] (n9) -- node[flabel] {False} (n10); \draw [arrow] (n9) -- node[tlabel] {True} (n11);
		\draw [arrow] (n14) -- node[flabel] {False} (n15); \draw [arrow] (n14) -- node[tlabel] {True} (n20);
		\draw [arrow] (n23) -- node[flabel] {False} (n24); \draw [arrow] (n23) -- node[tlabel] {True} (n25);
		\draw [arrow] (n38) -- node[flabel] {False} (n39); \draw [arrow] (n38) -- node[tlabel] {True} (n42);
		\draw [arrow] (n47) -- node[flabel] {False} (n48); \draw [arrow] (n47) -- node[tlabel] {True} (n49);
		\draw [arrow] (n67) -- node[flabel] {False} (n68); \draw [arrow] (n67) -- node[tlabel] {True} (n69);
		\draw [arrow] (n70) -- node[flabel] {False} (n71); \draw [arrow] (n70) -- node[tlabel] {True} (n72);
		\draw [arrow] (n77) -- node[flabel] {False} (n78); \draw [arrow] (n77) -- node[tlabel] {True} (n79);
		\draw [arrow] (n91) -- node[flabel] {False} (n92); \draw [arrow] (n91) -- node[tlabel] {True} (n93);
		\draw [arrow] (n98) -- node[flabel] {False} (n99); \draw [arrow] (n98) -- node[tlabel] {True} (n100);
		\draw [arrow] (n103) -- node[flabel] {False} (n104); \draw [arrow] (n103) -- node[tlabel] {True} (n105);
		\draw [arrow] (n113) -- node[flabel] {False} (n114); \draw [arrow] (n113) -- node[tlabel] {True} (n115);
		\draw [arrow] (n120) -- node[flabel] {False} (n121); \draw [arrow] (n120) -- node[tlabel] {True} (n122);
		\draw [arrow] (n126) -- node[flabel] {False} (n127); \draw [arrow] (n126) -- node[tlabel] {True} (n132);
		\draw [arrow] (n153) -- node[flabel] {False} (n154); \draw [arrow] (n153) -- node[tlabel] {True} (n155);
		\draw [arrow] (n157) -- node[flabel] {False} (n158); \draw [arrow] (n157) -- node[tlabel] {True} (n163);
		\draw [arrow] (n171) -- node[flabel] {False} (n172); \draw [arrow] (n171) -- node[tlabel] {True} (n173);
		\draw [arrow] (n194) -- node[flabel] {False} (n195); \draw [arrow] (n194) -- node[tlabel] {True} (n198);
		\draw [arrow] (n234) -- node[flabel] {False} (n235); \draw [arrow] (n234) -- node[tlabel] {True} (n236);
		\draw [arrow] (n11) -- node[flabel] {False} (n12); \draw [arrow] (n11) -- node[tlabel] {True} (n13);
		\draw [arrow] (n15) -- node[flabel] {False} (n16); \draw [arrow] (n15) -- node[tlabel] {True} (n19);
		\draw [arrow] (n39) -- node[flabel] {False} (n40); \draw [arrow] (n39) -- node[tlabel] {True} (n41);
		\draw [arrow] (n49) -- node[flabel] {False} (n50); \draw [arrow] (n49) -- node[tlabel] {True} (n51);
		\draw [arrow] (n100) -- node[flabel] {False} (n101); \draw [arrow] (n100) -- node[tlabel] {True} (n102);
		\draw [arrow] (n127) -- node[flabel] {False} (n128); \draw [arrow] (n127) -- node[tlabel] {True} (n131);
		\draw [arrow] (n158) -- node[flabel] {False} (n159); \draw [arrow] (n158) -- node[tlabel] {True} (n162);
		\draw [arrow] (n195) -- node[flabel] {False} (n196); \draw [arrow] (n195) -- node[tlabel] {True} (n197);
		\draw [arrow] (n16) -- node[flabel] {False} (n17); \draw [arrow] (n16) -- node[tlabel] {True} (n18);
		\draw [arrow] (n128) -- node[flabel] {False} (n129); \draw [arrow] (n128) -- node[tlabel] {True} (n130);
		\draw [arrow] (n159) -- node[flabel] {False} (n160); \draw [arrow] (n159) -- node[tlabel] {True} (n161);

	\end{tikzpicture}
\end{document}
